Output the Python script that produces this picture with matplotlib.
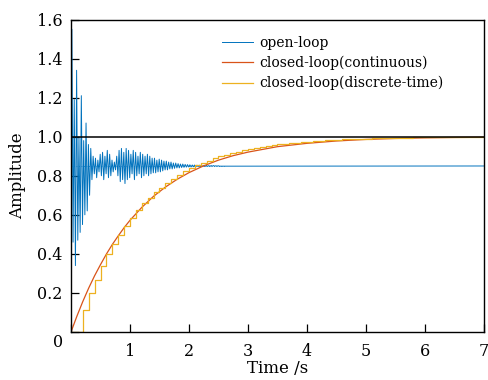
import matplotlib
matplotlib.use("Agg")
import matplotlib.pyplot as plt
import matplotlib.transforms as mtransforms
import numpy as np

# open-loop response: peaks and troughs of the oscillation, one pair every 0.04 s
open_dt = 0.04
open_start = 0.85
open_final = 0.85
open_peaks = [
    1.55, 1.19, 1.34, 1.00, 1.21, 0.98, 1.07, 0.96, 0.94, 0.90,
    0.89, 0.88, 0.91, 0.92, 0.90, 0.93, 0.91, 0.88, 0.87, 0.90,
    0.93, 0.94, 0.92, 0.94, 0.93, 0.91, 0.93, 0.92, 0.90, 0.92,
    0.91, 0.90, 0.91, 0.90, 0.89, 0.89, 0.88, 0.885, 0.88, 0.875,
    0.875, 0.87, 0.87, 0.865, 0.865, 0.862, 0.86, 0.86, 0.858, 0.857,
    0.856, 0.855, 0.855, 0.854, 0.854, 0.853, 0.853, 0.853, 0.852, 0.852,
    0.852, 0.851, 0.851,
]
open_troughs = [
    0.46, 0.34, 0.47, 0.51, 0.55, 0.60, 0.62, 0.70, 0.78, 0.81,
    0.79, 0.82, 0.80, 0.78, 0.81, 0.79, 0.80, 0.82, 0.83, 0.80,
    0.77, 0.78, 0.76, 0.78, 0.79, 0.81, 0.78, 0.80, 0.81, 0.79,
    0.80, 0.81, 0.80, 0.81, 0.815, 0.815, 0.82, 0.82, 0.825, 0.83,
    0.83, 0.835, 0.835, 0.838, 0.84, 0.84, 0.842, 0.843, 0.844, 0.845,
    0.845, 0.846, 0.846, 0.847, 0.847, 0.847, 0.848, 0.848, 0.848, 0.849,
    0.849, 0.849, 0.849,
]

# closed-loop, continuous model
cont_t = [0, 0.1, 0.2, 0.3, 0.4, 0.5, 0.6, 0.7, 0.8, 0.9, 1.0, 1.2, 1.4,
          1.6, 1.8, 2.0, 2.25, 2.5, 2.75, 3.0, 3.5, 4.0, 4.5, 5.0, 5.5,
          6.0, 6.5, 7.0]
cont_y = [0, 0.081, 0.156, 0.225, 0.288, 0.345, 0.399, 0.448, 0.492, 0.534,
          0.572, 0.638, 0.695, 0.742, 0.782, 0.816, 0.851, 0.880, 0.903,
          0.921, 0.949, 0.966, 0.978, 0.986, 0.991, 0.994, 0.996, 0.997]

# closed-loop, discrete-time model (sample time 0.1 s, zero-order hold)
disc_ts = 0.1
disc_y = [
    0, 0, 0.115, 0.200, 0.265, 0.337, 0.397, 0.453, 0.499, 0.545,
    0.585, 0.624, 0.662, 0.687, 0.716, 0.738, 0.764, 0.785, 0.805, 0.822,
    0.838, 0.853, 0.866, 0.878, 0.889, 0.899, 0.908, 0.916, 0.924, 0.931,
    0.937, 0.943, 0.948, 0.952, 0.957, 0.961, 0.964, 0.967, 0.970, 0.973,
    0.975, 0.978, 0.980, 0.982, 0.983, 0.985, 0.986, 0.987, 0.988, 0.990,
    0.990, 0.991, 0.992, 0.993, 0.994, 0.994, 0.995, 0.995, 0.996, 0.996,
    0.997, 0.997, 0.997, 0.998, 0.998, 0.998, 0.998, 0.999, 0.999, 0.999,
    0.999,
]

reference_level = 1.0
x_ticks = [0, 1, 2, 3, 4, 5, 6, 7]
x_tick_labels = ["", "1", "2", "3", "4", "5", "6", "7"]
y_ticks = [0, 0.2, 0.4, 0.6, 0.8, 1.0, 1.2, 1.4, 1.6]
y_tick_labels = ["0", "0.2", "0.4", "0.6", "0.8", "1.0", "1.2", "1.4", "1.6"]

plt.rcParams["font.family"] = "DejaVu Serif"

# interleave peaks and troughs into one time series
open_t = [0.0]
open_y = [open_start]
for k, (p, q) in enumerate(zip(open_peaks, open_troughs)):
    open_t += [0.015 + k * open_dt, 0.035 + k * open_dt]
    open_y += [p, q]
open_t.append(7.0)
open_y.append(open_final)

disc_t = np.arange(len(disc_y)) * disc_ts

fig = plt.figure(figsize=(4.89, 3.8), dpi=100)
ax = fig.add_axes([71 / 489, 1 - 332 / 380, 413 / 489, 312.5 / 380])

ax.plot([0, 2.6], [open_final, open_final], color="#0072BD", lw=0.6,
        ls=(0, (1, 2)), zorder=1)
ax.plot(open_t, open_y, color="#0072BD", lw=0.7, label="open-loop")
ax.plot(cont_t, cont_y, color="#D95319", lw=0.9,
        label="closed-loop(continuous)")
ax.step(disc_t, disc_y, where="post", color="#EDB120", lw=0.9,
        label="closed-loop(discrete-time)")
ax.axhline(reference_level, color="black", lw=1.1)

ax.set_xlim(0, 7)
ax.set_ylim(0, 1.6)
ax.set_xticks(x_ticks)
ax.set_xticklabels(x_tick_labels)
ax.set_yticks(y_ticks)
ax.set_yticklabels(y_tick_labels)
ax.tick_params(direction="in", length=5.5, width=0.9, labelsize=11.5,
               top=False, right=False)
ax.tick_params(axis="x", pad=8)
ax.tick_params(axis="y", pad=6)
for s in ax.spines.values():
    s.set_linewidth(1.0)

# push the "0" label down a little, clear of the x axis
lbl0 = ax.get_yticklabels()[0]
lbl0.set_transform(lbl0.get_transform()
                   + mtransforms.ScaledTranslation(0, -6 / 72, fig.dpi_scale_trans))

ax.set_xlabel("Time /s", fontsize=12)
ax.set_ylabel("Amplitude", fontsize=12)
ax.xaxis.set_label_coords(0.5, -0.09)
ax.yaxis.set_label_coords(-0.108, 0.5)

ax.legend(loc="upper left", bbox_to_anchor=(222 / 489, 1 - 36 / 380),
          bbox_transform=fig.transFigure, frameon=False, fontsize=10,
          handlelength=2.2, handletextpad=0.45, labelspacing=0.42,
          borderpad=0, borderaxespad=0)

fig.savefig("out.png", dpi=100)
